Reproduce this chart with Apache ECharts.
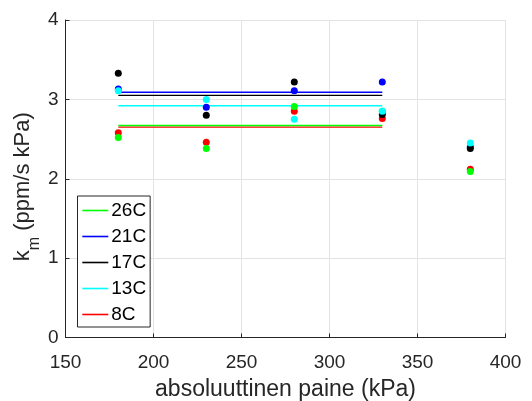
<!DOCTYPE html>
<html>
<head>
<meta charset="utf-8">
<script src="https://cdn.jsdelivr.net/npm/echarts@6/dist/echarts.min.js"></script>
<style>
  html, body { margin: 0; padding: 0; background: #fff; }
  #chart { width: 532px; height: 401px; }
</style>
</head>
<body>
<div id="chart"></div>
<script>
// measured pressures (kPa)
const pressures = [180, 230, 280, 330, 380]

// k_m per temperature
const k26 = [2.52, 2.38, 2.91, 2.85, 2.09]
const k21 = [3.13, 2.90, 3.11, 3.22, 2.40]
const k17 = [3.33, 2.80, 3.22, 2.81, 2.38]
const k13 = [3.11, 3.00, 2.75, 2.85, 2.45]
const k8 = [2.58, 2.46, 2.85, 2.76, 2.12]

// fitted level lines, span 180..330 kPa
const lineSpan = [180, 330]
const level26 = 2.67
const level21 = 3.09
const level17 = 3.05
const level13 = 2.92
const level8 = 2.65

const names = ['26C', '21C', '17C', '13C', '8C']
const colors = {
  '26C': '#00ff00',
  '21C': '#0000ff',
  '17C': '#000000',
  '13C': '#00ffff',
  '8C': '#ff0000'
}
const points = { '26C': k26, '21C': k21, '17C': k17, '13C': k13, '8C': k8 }
const levels = { '26C': level26, '21C': level21, '17C': level17, '13C': level13, '8C': level8 }

// draw order of the dots (later ones on top)
const dotOrder = ['8C', '26C', '21C', '17C', '13C']

const axisColor = '#262626'
const gridColor = '#e3e3e3'
const font = 'Liberation Sans, Arial, sans-serif'

const chart = echarts.init(document.getElementById('chart'), null, { renderer: 'canvas' })

const series = []
names.forEach(function (n) {
  series.push({
    name: n,
    type: 'line',
    symbol: 'none',
    silent: true,
    z: n === '26C' ? 3 : 2,
    lineStyle: { color: colors[n], width: 1.4 },
    itemStyle: { color: colors[n] },
    data: lineSpan.map(function (x) { return [x, levels[n]] })
  })
})
dotOrder.forEach(function (n, i) {
  series.push({
    name: n + ' pts',
    type: 'scatter',
    symbol: 'circle',
    symbolSize: 7,
    z: 4 + i,
    itemStyle: { color: colors[n], opacity: 1 },
    data: pressures.map(function (x, j) { return [x, points[n][j]] })
  })
})

chart.setOption({
  animation: false,
  backgroundColor: '#ffffff',
  textStyle: { fontFamily: font },
  grid: {
    left: 65.5,
    right: 26.5,
    top: 20,
    bottom: 63.5,
    containLabel: false,
    outerBoundsMode: 'none'
  },
  legend: {
    data: names,
    orient: 'vertical',
    left: 77.5,
    top: 196,
    padding: [5, 4, 3, 4],
    itemWidth: 26,
    itemHeight: 18,
    itemGap: 7,
    borderColor: axisColor,
    borderWidth: 1,
    backgroundColor: '#ffffff',
    itemStyle: { color: 'transparent', borderWidth: 0 },
    lineStyle: { width: 1.6 },
    textStyle: { fontFamily: font, fontSize: 19, color: '#000', padding: [0, 0, 0, -2] }
  },
  xAxis: {
    type: 'value',
    min: 150,
    max: 400,
    interval: 50,
    name: 'absoluuttinen paine (kPa)',
    nameLocation: 'middle',
    nameGap: 41,
    nameMoveOverlap: false,
    nameTextStyle: { fontFamily: font, fontSize: 23, color: axisColor },
    axisLine: { show: true, lineStyle: { color: axisColor, width: 1 } },
    axisTick: { show: true, inside: true, length: 4, lineStyle: { color: axisColor } },
    axisLabel: { fontFamily: font, fontSize: 19, color: axisColor, margin: 16 },
    splitLine: { show: true, lineStyle: { color: gridColor, width: 1 } }
  },
  yAxis: {
    type: 'value',
    min: 0,
    max: 4,
    interval: 1,
    name: '{t|k}{sub|m}{e| (ppm/s kPa)}',
    nameLocation: 'middle',
    nameGap: 22,
    nameMoveOverlap: false,
    nameRotate: 90,
    nameTextStyle: {
      fontFamily: font,
      fontSize: 22,
      color: axisColor,
      rich: {
        t: { fontFamily: font, fontSize: 22, color: axisColor, padding: [0, 0, 10, 0] },
        sub: { fontFamily: font, fontSize: 16, color: axisColor, padding: [14, 0, 0, 0] },
        e: { fontFamily: font, fontSize: 22, color: axisColor, padding: [0, 16, 10, 0] }
      }
    },
    axisLine: { show: true, lineStyle: { color: axisColor, width: 1 } },
    axisTick: { show: true, inside: true, length: 4, lineStyle: { color: axisColor } },
    axisLabel: { fontFamily: font, fontSize: 19, color: axisColor, margin: 7 },
    splitLine: { show: true, lineStyle: { color: gridColor, width: 1 } }
  },
  series: series
})
</script>
</body>
</html>
